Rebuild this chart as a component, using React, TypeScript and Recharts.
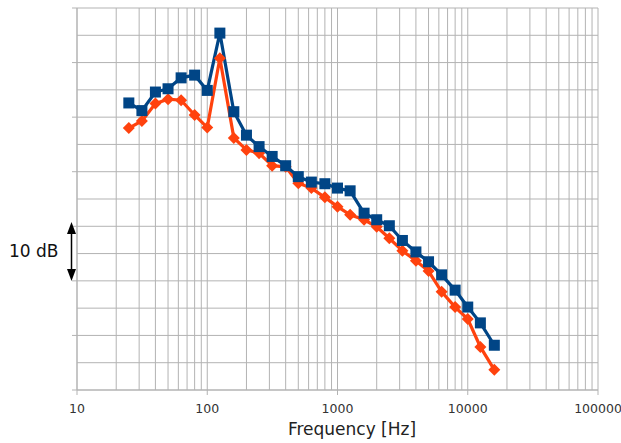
import { ComposedChart, Line, XAxis, YAxis, CartesianGrid } from 'recharts';

// 1/3-octave band centre frequencies [Hz]
const freqs = [
  25, 31.5, 40, 50, 63, 80, 100, 125, 160, 200, 250, 315, 400, 500, 630, 800, 1000,
  1250, 1600, 2000, 2500, 3150, 4000, 5000, 6300, 8000, 10000, 12500, 16000,
];

// levels in dB (relative, axis is unlabelled)
const levelBlue = [
  52.6, 51.2, 54.6, 55.2, 57.2, 57.7, 54.9, 65.4, 51.0, 46.7, 44.6, 42.8, 41.1, 39.1, 38.1,
  37.8, 37.0, 36.5, 32.4, 31.2, 30.1, 27.4, 25.3, 23.5, 21.1, 18.3, 15.2, 12.3, 8.2,
];
const levelOrange = [
  48.0, 49.3, 52.5, 53.3, 53.1, 50.4, 48.1, 60.8, 46.2, 44.0, 43.4, 41.1, 40.9, 37.9, 37.0,
  35.3, 33.6, 32.1, 31.2, 29.9, 27.8, 25.5, 23.7, 21.8, 18.0, 15.2, 13.0, 7.9, 3.7,
];

const decades = [10, 100, 1000, 10000, 100000];
const xTicks = [
  10, 20, 30, 40, 50, 60, 70, 80, 90,
  100, 200, 300, 400, 500, 600, 700, 800, 900,
  1000, 2000, 3000, 4000, 5000, 6000, 7000, 8000, 9000,
  10000, 20000, 30000, 40000, 50000, 60000, 70000, 80000, 90000,
  100000,
];
const yTicks = [0, 5, 10, 15, 20, 25, 30, 35, 40, 45, 50, 55, 60, 65, 70];

const data = freqs.map((f, i) => ({ f, blue: levelBlue[i], orange: levelOrange[i] }));

const GRID = '#b3b3b3';
const FONT = 'DejaVu Sans';

function XTick({ x, y, payload }: any) {
  if (!decades.includes(payload.value)) return <g />;
  return (
    <g>
      <line x1={x} x2={x} y1={y - 8} y2={y - 3} stroke={GRID} />
      <text x={x} y={y + 15} textAnchor="middle" fontSize={12.5} fontFamily={FONT} fill="#333">
        {payload.value}
      </text>
    </g>
  );
}

function YTick({ x, y, payload }: any) {
  if (payload.value % 10 !== 0) return <g />;
  return <line x1={x + 3} x2={x + 8} y1={y} y2={y} stroke={GRID} />;
}

function SquareDot({ cx, cy, index }: any) {
  return <rect key={'s' + index} x={cx - 5.5} y={cy - 5.5} width={11} height={11} fill="#004586" />;
}

function DiamondDot({ cx, cy, index }: any) {
  return (
    <path
      key={'d' + index}
      d={`M${cx},${cy - 6}L${cx + 6},${cy}L${cx},${cy + 6}L${cx - 6},${cy}Z`}
      fill="#ff420e"
    />
  );
}

export default function App() {
  return (
    <div style={{ position: 'absolute', left: 0, top: 0, width: 621, height: 443, background: '#fff' }}>
      <ComposedChart width={621} height={443} data={data} margin={{ top: 8, right: 23, left: 67, bottom: 0 }}>
        <CartesianGrid stroke={GRID} strokeWidth={1} />
        <XAxis
          dataKey="f"
          type="number"
          scale="log"
          domain={[10, 100000]}
          ticks={xTicks}
          interval={0}
          height={53}
          tickSize={6}
          tickMargin={2}
          tickLine={false}
          axisLine={{ stroke: GRID }}
          tick={<XTick />}
          tickFormatter={(v: number) => (decades.includes(v) ? String(v) : '')}
          allowDataOverflow
        />
        <YAxis
          type="number"
          domain={[0, 70]}
          ticks={yTicks}
          interval={0}
          width={10}
          tickSize={6}
          tickMargin={2}
          tickLine={false}
          axisLine={{ stroke: GRID }}
          tick={<YTick />}
        />
        <Line
          dataKey="orange"
          stroke="#ff420e"
          strokeWidth={3.2}
          dot={DiamondDot}
          activeDot={false}
          isAnimationActive={false}
        />
        <Line
          dataKey="blue"
          stroke="#004586"
          strokeWidth={3.2}
          dot={SquareDot}
          activeDot={false}
          isAnimationActive={false}
        />
      </ComposedChart>
      <svg
        width={621}
        height={443}
        style={{ position: 'absolute', left: 0, top: 0, pointerEvents: 'none' }}
      >
        <text x={9} y={257} fontSize={17} fontFamily={FONT} fill="#111">
          10 dB
        </text>
        <line x1={71.5} x2={71.5} y1={230} y2={273} stroke="#000" strokeWidth={1.5} />
        <path d="M71.5,222L67,234L76,234Z" fill="#000" />
        <path d="M71.5,281L67,269L76,269Z" fill="#000" />
        <text x={352} y={435} textAnchor="middle" fontSize={17} fontFamily={FONT} fill="#222">
          Frequency [Hz]
        </text>
      </svg>
    </div>
  );
}
